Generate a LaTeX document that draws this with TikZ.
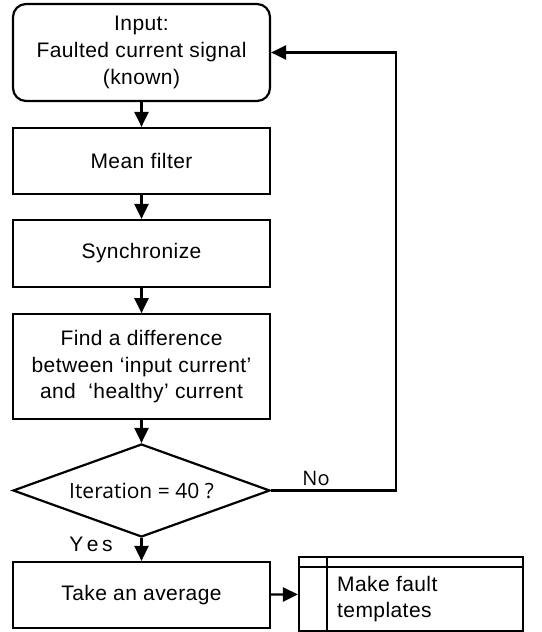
\documentclass[tikz,border=0pt]{standalone}
\usepackage{fontspec}
\setmainfont{Liberation Sans}[LetterSpace=2]
\newfontfamily\segoe{Open Sans}
\usetikzlibrary{arrows.meta,shapes.geometric}
\begin{document}
\begin{tikzpicture}[x=1pt,y=-1pt,
  every node/.style={font=\fontsize{21}{26.7}\selectfont},
  box/.style={draw,line width=2.2pt,minimum width=257pt,inner sep=0pt,align=center},
  rbox/.style={box,rounded corners=13pt},
  dec/.style={draw,line width=2.2pt,diamond,aspect=2.76,minimum width=257pt,minimum height=93pt,inner sep=0pt,font=\segoe\fontsize{21}{24}\selectfont},
  lbl/.style={inner sep=0pt},
  arr/.style={line width=2.2pt,-{Triangle[length=15pt,width=14pt]}},
  ln/.style={line width=2.2pt}]
\useasboundingbox (0,0) rectangle (541,632);
\node[rbox,minimum height=97pt] (in) at (141.5,52.5) {Input:\\Faulted current signal\\(known)};
\node[box,minimum height=66pt] (mean) at (141.5,161) {Mean filter};
\node[box,minimum height=67pt] (sync) at (141.5,253.5) {Synchronize};
\node[box,minimum height=105pt] (find) at (141.5,366.75) {Find a difference\\between ‘input current’\\and \ ‘healthy’ current};
\node[dec] (dia) at (141.5,490.5) {Iteration = 40 ?};
\node[box,minimum height=66pt] (take) at (141.5,595) {Take an average};
\node[draw,line width=2.2pt,minimum width=224pt,minimum height=74pt,inner sep=0pt] (make) at (411,594) {};
\node[lbl,anchor=west,align=left] (maketxt) at (337,599) {Make fault\\templates};
\coordinate (hl) at (make.north west |- 0,567);
\coordinate (hr) at (make.north east |- 0,567);
\coordinate (vt) at (make.north west -| 327,0);
\coordinate (vb) at (make.south west -| 327,0);
\draw[ln] (hl) -- (hr);
\draw[ln] (vt) -- (vb);
\draw[arr] (in) -- (mean);
\draw[arr] (mean) -- (sync);
\draw[arr] (sync) -- (find);
\draw[arr] (find) -- (dia);
\draw[arr] (dia) -- (take);
\draw[arr] (take) -- (make);
\coordinate (loop) at (396,490.5);
\draw[arr,line join=miter] (dia.east) -- (loop) |- (in.east);
\node[lbl,font=\segoe\fontsize{20}{24}\selectfont] (no) at (316,478) {No};
\node[lbl] (yes) at (91,544) {Y\,e\,s};
\end{tikzpicture}
\end{document}
